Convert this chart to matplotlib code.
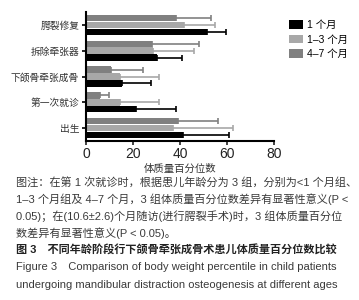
import matplotlib
matplotlib.use("Agg")
import matplotlib.pyplot as plt
import numpy as np

plt.rcParams['font.family'] = ['Liberation Sans', 'Noto Sans CJK SC', 'DejaVu Sans']

# Data (mean and upper end of SD bar)
stages = ['出生', '第一次就诊', '下颌骨牵张成骨', '拆除牵张器', '腭裂修复']
groups = ['1 个月', '1–3 个月', '4–7 个月']
means_1m = [41.4, 21.2, 15.3, 30.2, 51.5]
upper_1m = [61.0, 38.3, 27.6, 41.0, 59.6]
means_1_3m = [37.0, 14.6, 14.5, 28.6, 41.7]
upper_1_3m = [62.5, 31.0, 31.0, 46.0, 55.0]
means_4_7m = [39.0, 5.7, 10.7, 28.2, 38.3]
upper_4_7m = [56.0, 9.9, 24.2, 48.0, 53.0]

colors = ['#000000', '#a8a8a8', '#808080']
series = [(means_1m, upper_1m), (means_1_3m, upper_1_3m), (means_4_7m, upper_4_7m)]

fig = plt.figure(figsize=(3.59, 3.0), dpi=100)
ax = fig.add_axes([0.24, 0.53, 0.523, 0.43])

y = np.arange(len(stages))
h = 0.25
offsets = [-0.27, 0.0, 0.27]
for (m, u), c, off, lab in zip(series, colors, offsets, groups):
    m = np.array(m)
    u = np.array(u)
    err = np.vstack([np.zeros_like(m), u - m])
    ax.barh(y + off, m, height=h, color=c, label=lab,
            xerr=err, error_kw=dict(ecolor=c, elinewidth=1.2, capsize=2.5, capthick=1.2))

ax.set_ylim(-0.5, 4.5)
ax.set_xlim(0, 80)
ax.set_xticks([0, 20, 40, 60, 80])
ax.set_yticks(y)
ax.set_yticklabels(stages, fontsize=7, color='#333333')
ax.tick_params(axis='x', labelsize=10, colors='#222222', length=3, width=1.2, pad=1)
ax.tick_params(axis='y', length=3, width=1.2, pad=2)
ax.set_xlabel('体质量百分位数', fontsize=7.5, color='#333333', labelpad=2)
for s in ['top', 'right']:
    ax.spines[s].set_visible(False)
for s in ['left', 'bottom']:
    ax.spines[s].set_linewidth(1.5)

handles, labels = ax.get_legend_handles_labels()
leg = fig.legend(handles, labels, loc='upper left', bbox_to_anchor=(0.78, 0.965),
                 frameon=False, fontsize=7.5, handlelength=1.3, handleheight=0.9,
                 labelspacing=0.45, handletextpad=0.4)

caption = [
    ('图注：在第 1 次就诊时，根据患儿年龄分为 3 组，分别为<1 个月组、', 'normal'),
    ('1–3 个月组及 4–7 个月，3 组体质量百分位数差异有显著性意义(P <', 'normal'),
    ('0.05)；在(10.6±2.6)个月随访(进行腭裂手术)时，3 组体质量百分位', 'normal'),
    ('数差异有显著性意义(P < 0.05)。', 'normal'),
    ('图 3　不同年龄阶段行下颌骨牵张成骨术患儿体质量百分位数比较', 'bold'),
    ('Figure 3　Comparison of body weight percentile in child patients', 'normal'),
    ('undergoing mandibular distraction osteogenesis at different ages', 'normal'),
]
y0 = 1 - 182 / 300
for i, (txt, w) in enumerate(caption):
    fig.text(16 / 359, y0 - i * 17.1 / 300, txt, fontsize=8, fontweight=w,
             color='#222222' if w == 'bold' else '#3a3a3a', va='center', ha='left')

fig.savefig('out.png', dpi=100)
